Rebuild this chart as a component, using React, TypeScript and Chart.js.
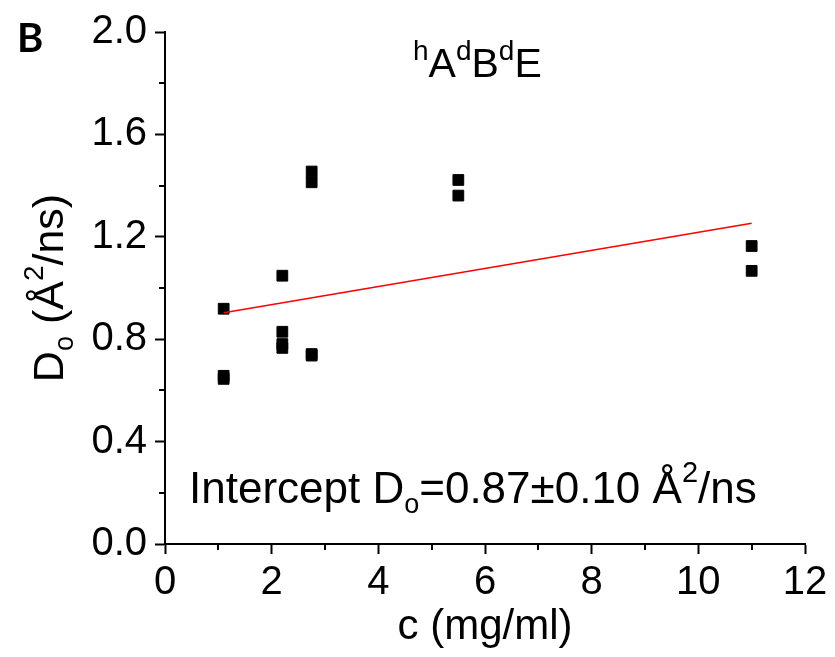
import React, { useEffect, useRef } from "react";
import { Chart, registerables } from "chart.js";

Chart.register(...registerables);

// Data
const concentration = [1.1, 1.1, 1.1, 2.2, 2.2, 2.2, 2.2, 2.75, 2.75, 2.75, 2.75, 5.5, 5.5, 11, 11];
const diffusion = [0.919, 0.657, 0.645, 1.048, 0.829, 0.781, 0.766, 1.455, 1.413, 0.742, 0.736, 1.422, 1.361, 1.164, 1.067];
const fitX = [1.1, 11];
const fitY = [0.903, 1.253];
const xMinorTicks = [1, 3, 5, 7, 9, 11];
const yMinorTicks = [0.2, 0.6, 1.0, 1.4, 1.8];

const FONT = "'Liberation Sans', Arial, sans-serif";

type Part = { t: string; size: number; dy: number };

function drawRich(ctx: CanvasRenderingContext2D, parts: Part[], x: number, y: number, align: "left" | "center") {
  let total = 0;
  const widths = parts.map((p) => {
    ctx.font = `${p.size}px ${FONT}`;
    const w = ctx.measureText(p.t).width;
    total += w;
    return w;
  });
  let cx = align === "center" ? x - total / 2 : x;
  ctx.textBaseline = "alphabetic";
  ctx.textAlign = "left";
  parts.forEach((p, i) => {
    ctx.font = `${p.size}px ${FONT}`;
    ctx.fillText(p.t, cx, y + p.dy);
    cx += widths[i];
  });
}

const annotations = {
  id: "annotations",
  afterDraw(chart: any) {
    const ctx: CanvasRenderingContext2D = chart.ctx;
    const xs = chart.scales.x;
    const ys = chart.scales.y;
    const area = chart.chartArea;
    ctx.save();
    ctx.strokeStyle = "#000";
    ctx.lineWidth = 2;
    ctx.beginPath();
    xMinorTicks.forEach((v) => {
      const px = Math.round(xs.getPixelForValue(v));
      ctx.moveTo(px, area.bottom);
      ctx.lineTo(px, area.bottom + 6);
    });
    yMinorTicks.forEach((v) => {
      const py = Math.round(ys.getPixelForValue(v));
      ctx.moveTo(area.left, py);
      ctx.lineTo(area.left - 6, py);
    });
    ctx.stroke();

    ctx.fillStyle = "#000";
    // Panel label
    ctx.font = `bold 40px Lato, 'Open Sans', sans-serif`;
    ctx.textAlign = "left";
    ctx.textBaseline = "alphabetic";
    ctx.fillText("B", 17, 52);

    // Title
    drawRich(
      ctx,
      [
        { t: "h", size: 28, dy: -17 },
        { t: "A", size: 41, dy: 0 },
        { t: "d", size: 28, dy: -17 },
        { t: "B", size: 41, dy: 0 },
        { t: "d", size: 28, dy: -17 },
        { t: "E", size: 41, dy: 0 },
      ],
      413,
      77,
      "left"
    );

    // Intercept annotation
    drawRich(
      ctx,
      [
        { t: "Intercept D", size: 44, dy: 0 },
        { t: "o", size: 27, dy: 10 },
        { t: "=0.87±0.10 Å", size: 44, dy: 0 },
        { t: "2", size: 29, dy: -21 },
        { t: "/ns", size: 44, dy: 0 },
      ],
      189,
      503,
      "left"
    );

    // Y axis title (rotated)
    ctx.save();
    ctx.translate(63, (area.top + area.bottom) / 2);
    ctx.rotate(-Math.PI / 2);
    drawRich(
      ctx,
      [
        { t: "D", size: 43, dy: 0 },
        { t: "o", size: 27, dy: 10 },
        { t: " (Å", size: 43, dy: 0 },
        { t: "2", size: 28, dy: -20 },
        { t: "/ns)", size: 43, dy: 0 },
      ],
      0,
      0,
      "center"
    );
    ctx.restore();
    ctx.restore();
  },
};

export default function App() {
  const ref = useRef<HTMLCanvasElement | null>(null);
  useEffect(() => {
    if (!ref.current) return;
    const chart = new Chart(ref.current, {
      type: "scatter",
      data: {
        datasets: [
          {
            label: "fit",
            data: fitX.map((x, i) => ({ x, y: fitY[i] })),
            showLine: true,
            borderColor: "#ff0000",
            borderWidth: 1.5,
            pointRadius: 0,
            order: 0,
          },
          {
            label: "data",
            data: concentration.map((x, i) => ({ x, y: diffusion[i] })),
            pointStyle: "rect",
            pointRadius: 7.6,
            backgroundColor: "#000",
            borderColor: "#000",
            borderWidth: 1,
            order: 1,
          },
        ],
      },
      options: {
        animation: false,
        responsive: false,
        devicePixelRatio: 1,
        layout: { padding: { top: 28, right: 30, left: 0, bottom: 0 } },
        plugins: { legend: { display: false }, tooltip: { enabled: false } },
        scales: {
          x: {
            type: "linear",
            min: 0,
            max: 12,
            afterFit: (s: any) => {
              s.height = 113;
            },
            ticks: {
              stepSize: 2,
              color: "#000",
              font: { family: FONT, size: 40 },
              padding: 5,
              maxRotation: 0,
            },
            grid: {
              drawOnChartArea: false,
              drawTicks: true,
              tickLength: 10,
              tickWidth: 2,
              tickColor: "#000",
            },
            border: { display: true, color: "#000", width: 2 },
            title: {
              display: true,
              text: "c (mg/ml)",
              color: "#000",
              font: { family: FONT, size: 42 },
              padding: { top: 0, bottom: 4 },
            },
          },
          y: {
            type: "linear",
            min: 0,
            max: 2,
            afterFit: (s: any) => {
              s.width = 165;
            },
            ticks: {
              stepSize: 0.4,
              color: "#000",
              font: { family: FONT, size: 40 },
              padding: 8,
              callback: (v: any) => Number(v).toFixed(1),
            },
            grid: {
              drawOnChartArea: false,
              drawTicks: true,
              tickLength: 10,
              tickWidth: 2,
              tickColor: "#000",
            },
            border: { display: true, color: "#000", width: 2 },
          },
        },
      },
      plugins: [annotations],
    });
    return () => chart.destroy();
  }, []);
  return (
    <div style={{ position: "fixed", left: 0, top: 0, width: 835, height: 657, background: "#fff" }}>
      <canvas ref={ref} width={835} height={657} />
    </div>
  );
}
